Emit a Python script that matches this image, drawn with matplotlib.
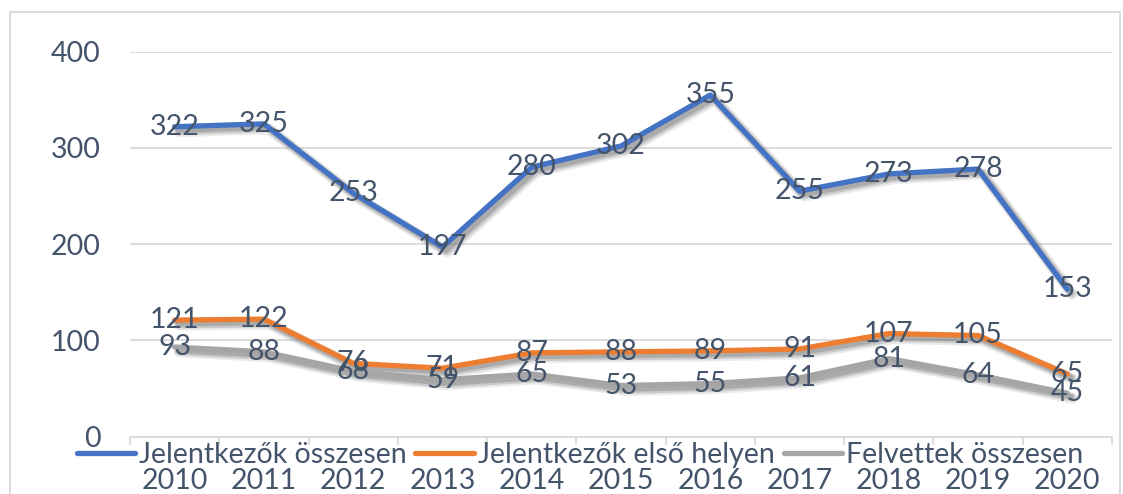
import matplotlib
matplotlib.use("Agg")
import matplotlib.pyplot as plt
import matplotlib.patheffects as pe
from matplotlib.patches import Rectangle
import numpy as np

years = ["2010", "2011", "2012", "2013", "2014", "2015", "2016", "2017", "2018", "2019", "2020"]
jel_ossz = [322, 325, 253, 197, 280, 302, 355, 255, 273, 278, 153]
jel_elso = [121, 122, 76, 71, 87, 88, 89, 91, 107, 105, 65]
felvett = [93, 88, 68, 59, 65, 53, 55, 61, 81, 64, 45]
series_names = ["Jelentkezők összesen", "Jelentkezők első helyen", "Felvettek összesen"]
colors = ["#4472C4", "#ED7D31", "#A5A5A5"]
yticks = [0, 100, 200, 300, 400]

TXT = "#44546A"
GRID = "#D9D9D9"
plt.rcParams['font.family'] = ['Lato', 'DejaVu Sans']
FS = 20.5

fig = plt.figure(figsize=(11.23, 4.94), dpi=100)
ax = fig.add_axes([130/1123, 1-436.5/494, (1112-130)/1123, (436.5-51.7)/494])

x = np.arange(len(years))
shadow = [pe.SimpleLineShadow(offset=(3.5, -3.5), shadow_color='#909090', alpha=0.18, linewidth=8),
          pe.SimpleLineShadow(offset=(3, -3), shadow_color='#808080', alpha=0.3, linewidth=6),
          pe.SimpleLineShadow(offset=(2.5, -2.5), shadow_color='#707070', alpha=0.35, linewidth=4),
          pe.Normal()]
lines = []
for vals, c, n in zip([jel_ossz, jel_elso, felvett], colors, series_names):
    l, = ax.plot(x, vals, color=c, lw=3.8, solid_capstyle='round', solid_joinstyle='round',
                 label=n, path_effects=shadow, zorder=3)
    lines.append(l)
for vals in [jel_ossz, jel_elso, felvett]:
    for xi, v in zip(x, vals):
        ax.text(xi, v, str(v), ha='center', va='center', fontsize=FS, color=TXT, zorder=5)

ax.set_xlim(-0.5, len(years)-0.5)
ax.set_ylim(0, 400)
ax.set_yticks(yticks)
ax.set_yticklabels([str(t) for t in yticks])
ax.yaxis.grid(True, color=GRID, lw=1.3)
ax.set_axisbelow(True)
for s in ['top', 'right', 'left']:
    ax.spines[s].set_visible(False)
ax.spines['bottom'].set_color(GRID)
ax.spines['bottom'].set_linewidth(1.3)
ax.tick_params(axis='y', length=0, pad=21, labelsize=FS, labelcolor=TXT)
ax.set_xticks(x)
ax.set_xticklabels(years)
ax.tick_params(axis='x', which='major', length=0, pad=23, labelsize=FS, labelcolor=TXT)
ax.set_xticks(np.arange(-0.5, len(years), 1), minor=True)
ax.tick_params(axis='x', which='minor', length=6, color=GRID, width=1.3)

leg = fig.legend(handles=lines, labels=series_names, loc='center', bbox_to_anchor=(580/1123, 1-455/494),
                 ncol=3, frameon=False, fontsize=FS, labelcolor=TXT, handlelength=2.05,
                 handletextpad=0.15, columnspacing=0.3, borderaxespad=0, borderpad=0)
for h in leg.legend_handles:
    h.set_path_effects([])
    h.set_linewidth(3.8)

fig.patches.append(Rectangle((10/1123, -0.1), (1120-10)/1123, 1.1-12/494, transform=fig.transFigure,
                             fill=False, edgecolor=GRID, lw=1.3, zorder=0))
fig.savefig("out.png", dpi=100)
